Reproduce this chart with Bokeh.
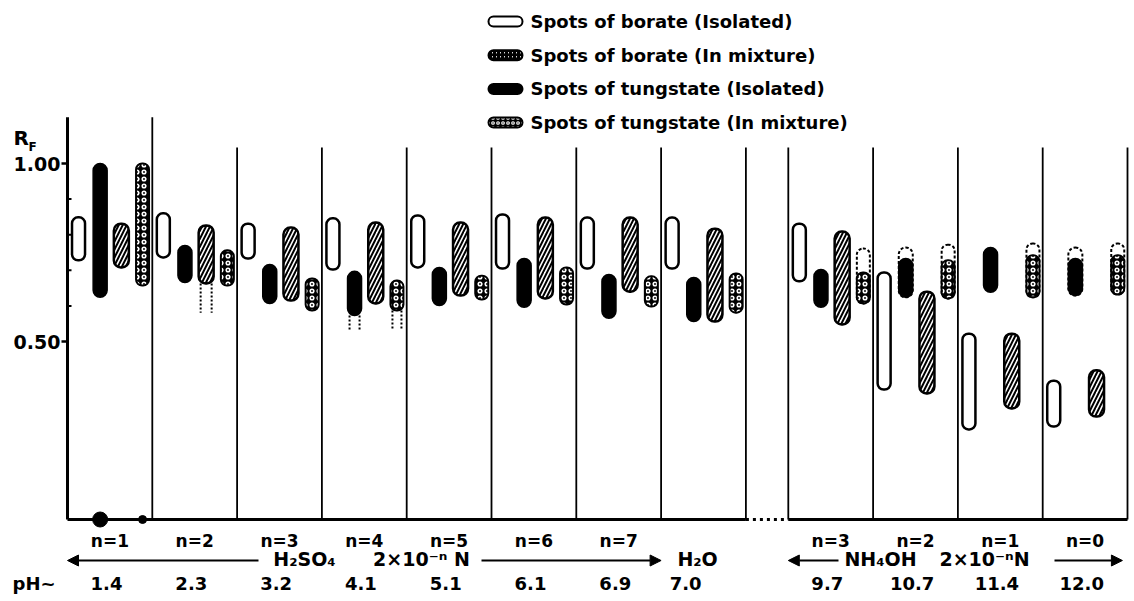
import numpy as np
from bokeh.plotting import figure
from bokeh.models import Range1d, Arrow, NormalHead, ColumnDataSource
from bokeh.core.properties import value
from bokeh.embed import file_html
from bokeh.resources import INLINE

nan = np.nan

# ---------------- data ----------------
acid_labels = ["n=1", "n=2", "n=3", "n=4", "n=5", "n=6", "n=7"]
water_labels = [""]
base_labels = ["n=3", "n=2", "n=1", "n=0"]
ph_values = [1.4, 2.3, 3.2, 4.1, 5.1, 6.1, 6.9, 7.0, 9.7, 10.7, 11.4, 12.0]

# RF ranges for the 12 columns (7 H2SO4, H2O, 4 NH4OH)
borate_iso_lo = [0.728, 0.736, 0.733, 0.702, 0.708, 0.705, 0.705, 0.705, 0.669, 0.365, 0.253, 0.261]
borate_iso_hi = [0.849, 0.860, 0.831, 0.846, 0.854, 0.857, 0.848, 0.848, 0.831, 0.694, 0.522, 0.390]

tung_iso_lo = [0.624, 0.666, 0.607, 0.573, 0.601, 0.596, 0.565, 0.556, 0.596, 0.624, 0.638, 0.629]
tung_iso_hi = [1.000, 0.770, 0.716, 0.697, 0.708, 0.733, 0.688, 0.680, 0.702, 0.764, 0.764, 0.764]
tung_iso_solid_top = [nan, nan, nan, nan, nan, nan, nan, nan, nan, 0.733, nan, 0.733]
tung_iso_tail = [nan, nan, nan, 0.531, nan, nan, nan, nan, nan, nan, nan, nan]

borate_mix_lo = [0.708, 0.663, 0.615, 0.607, 0.629, 0.621, 0.640, 0.556, 0.548, 0.354, 0.312, 0.289]
borate_mix_hi = [0.831, 0.826, 0.820, 0.834, 0.834, 0.848, 0.848, 0.817, 0.809, 0.640, 0.522, 0.419]
borate_mix_tail = [nan, 0.581, nan, nan, nan, nan, nan, nan, nan, nan, nan, nan]

tung_mix_lo = [0.657, 0.657, 0.587, 0.587, 0.618, 0.604, 0.598, 0.581, 0.607, 0.621, 0.624, 0.632]
tung_mix_hi = [1.000, 0.756, 0.677, 0.671, 0.685, 0.708, 0.683, 0.691, 0.761, 0.772, 0.775, 0.775]
tung_mix_solid_top = [nan, nan, nan, nan, nan, nan, nan, nan, 0.694, 0.728, 0.742, 0.742]
tung_mix_tail = [nan, nan, nan, 0.531, nan, nan, nan, nan, nan, nan, nan, nan]

# spots left at the origin (RF = 0), column 1 only
origin_cols = [0, 0]
origin_kind = ["tung_iso", "tung_mix"]

y_major = [0.5, 1.0]
y_minor = [0.6, 0.7, 0.8, 0.9]
y_major_labels = ["0.50", "1.00"]

legend_labels = ["Spots of borate (Isolated)", "Spots of borate (In mixture)",
                 "Spots of tungstate (Isolated)", "Spots of tungstate (In mixture)"]

acid_text = ["H\u2082SO\u2084", "2\u00d710\u207b\u207f N"]
base_text = ["NH\u2084OH", "2\u00d710\u207b\u207fN"]
water_text = "H\u2082O"

# ---------------- layout ----------------
PXU = 84.8      # px per column unit
PXY = 356.0     # px per RF unit
X0, Y0 = 67.0, 519.0
W, H = 1134, 601
GAP = 0.5
n_acid = len(acid_labels) + len(water_labels)
panel_left = np.r_[np.arange(n_acid), n_acid + GAP + np.arange(len(base_labels))].astype(float)
boundaries = np.unique(np.r_[panel_left[1:], panel_left + 1.0])
px = lambda v: v / PXU
py = lambda v: v / PXY
dx = lambda pix: (pix - X0) / PXU      # page px -> data x (layout helper)

lane = {"borate_iso": 0.13, "tung_iso": 0.385, "borate_mix": 0.635, "tung_mix": 0.885}
bw = {"borate_iso": 13, "tung_iso": 14, "borate_mix": 15, "tung_mix": 13}

FONT = value("DejaVu Sans")

p = figure(width=W, height=H, output_backend="svg", toolbar_location=None,
           x_range=Range1d(-X0 / PXU, (W - X0) / PXU),
           y_range=Range1d(-(H - Y0) / PXY, Y0 / PXY),
           min_border=0, min_border_left=0, min_border_right=0,
           min_border_top=0, min_border_bottom=0,
           x_axis_location=None, y_axis_location=None, title=None)
p.grid.visible = False
p.outline_line_color = None
p.background_fill_color = "white"
p.border_fill_color = "white"

# ---- axis and separators ----
AX_TOP = 1.13
p.segment(x0=[0], y0=[0], x1=[0], y1=[AX_TOP], line_color="black", line_width=3)
sep_top = np.where(np.arange(len(boundaries)) == 0, AX_TOP, 1.045)
p.segment(x0=boundaries, y0=np.zeros(len(boundaries)), x1=boundaries, y1=sep_top,
          line_color="black", line_width=1.8)
# baseline
acid_end = panel_left[n_acid - 1] + 1.0
base_start = panel_left[n_acid]
p.segment(x0=[0, base_start], y0=[0, 0], x1=[acid_end, boundaries[-1]], y1=[0, 0],
          line_color="black", line_width=3)
p.segment(x0=[acid_end], y0=[0], x1=[base_start], y1=[0], line_color="black",
          line_width=3, line_dash="3 4")

# ticks
p.segment(x0=np.zeros(len(y_major)), y0=y_major, x1=np.full(len(y_major), -px(6)), y1=y_major,
          line_color="black", line_width=2.5)
p.segment(x0=np.zeros(len(y_minor)), y0=y_minor, x1=np.full(len(y_minor), px(4)), y1=y_minor,
          line_color="black", line_width=2)
p.text(x=np.full(len(y_major), -px(7)), y=y_major, text=y_major_labels, text_font=FONT,
       text_font_style="bold", text_font_size="19px", text_align="right", text_baseline="middle",
       text_color="black")
p.text(x=[-px(54)], y=[py(382)], text=["R"], text_font=FONT, text_font_style="bold",
       text_font_size="20px", text_align="left", text_baseline="middle")
p.text(x=[-px(39)], y=[py(373)], text=["F"], text_font=FONT, text_font_style="bold",
       text_font_size="12px", text_align="left", text_baseline="middle")


# ---- spots ----
def xs(kind):
    return panel_left + lane[kind]


def rad(kind):
    return int(bw[kind] // 2)


def capsule(kind, lo, hi, **kw):
    src = ColumnDataSource(dict(x=xs(kind), lo=lo, hi=hi))
    p.vbar(x="x", bottom="lo", top="hi", width=px(bw[kind]), source=src,
           border_radius=rad(kind), **kw)


# dashed outer capsule for spots whose top is only faint
for kind, lo, hi, st in [("tung_iso", tung_iso_lo, tung_iso_hi, tung_iso_solid_top),
                         ("tung_mix", tung_mix_lo, tung_mix_hi, tung_mix_solid_top)]:
    st = np.array(st, dtype=float)
    m = ~np.isnan(st)
    src = ColumnDataSource(dict(x=xs(kind)[m], lo=np.array(lo)[m], hi=np.array(hi)[m]))
    p.vbar(x="x", bottom="lo", top="hi", width=px(bw[kind]), source=src,
           border_radius=rad(kind), fill_color="white", line_color="black",
           line_width=2, line_dash="3 2")

# borate isolated: open
capsule("borate_iso", borate_iso_lo, borate_iso_hi, fill_color="white",
        line_color="black", line_width=2.5)

# tungstate isolated: solid black
ti_top = np.where(np.isnan(np.array(tung_iso_solid_top, dtype=float)),
                  np.array(tung_iso_hi), np.array(tung_iso_solid_top, dtype=float))
capsule("tung_iso", tung_iso_lo, ti_top, fill_color="black", line_color="black", line_width=1.5)

# borate in mixture: hatched
capsule("borate_mix", borate_mix_lo, borate_mix_hi, fill_color="white", line_color="black",
        line_width=2.5, hatch_pattern="/", hatch_color="black", hatch_scale=8,
        hatch_weight=2)

# tungstate in mixture: speckled
tm_top = np.where(np.isnan(np.array(tung_mix_solid_top, dtype=float)),
                  np.array(tung_mix_hi), np.array(tung_mix_solid_top, dtype=float))
capsule("tung_mix", tung_mix_lo, tm_top, fill_color="black", line_color="black",
        line_width=2, hatch_pattern="ring", hatch_color="white", hatch_scale=7,
        hatch_weight=1.6)

# dotted tails below some spots
for kind, lo, tail in [("borate_mix", borate_mix_lo, borate_mix_tail),
                       ("tung_iso", tung_iso_lo, tung_iso_tail),
                       ("tung_mix", tung_mix_lo, tung_mix_tail)]:
    t = np.array(tail, dtype=float)
    m = ~np.isnan(t)
    cx = xs(kind)[m]
    half = px(bw[kind] / 2.0 - 2)
    x_all = np.r_[cx - half, cx + half]
    p.segment(x0=x_all, y0=np.tile(np.array(lo)[m], 2), x1=x_all, y1=np.tile(t[m], 2),
              line_color="black", line_width=2, line_dash="2 2")

# origin spots
osize = {"tung_iso": 15, "tung_mix": 8}
p.scatter(x=[panel_left[c] + lane[k] for c, k in zip(origin_cols, origin_kind)],
          y=[0.0] * len(origin_cols), size=[osize[k] for k in origin_kind],
          marker="circle", fill_color="black", line_color="black")

# ---- bottom labels ----
all_n = acid_labels + water_labels + base_labels
lab_x = panel_left + 0.5
lab_x[n_acid - 1] -= 0.17          # the water column labels sit left of centre
ROW_N, ROW_ARR, ROW_PH = -py(21), -py(39), -py(64)
p.text(x=lab_x, y=np.full(len(lab_x), ROW_N), text=all_n, text_font=FONT,
       text_font_style="bold", text_font_size="17px", text_align="center",
       text_baseline="middle")
p.text(x=lab_x - 0.04, y=np.full(len(lab_x), ROW_PH), text=[f"{v:.1f}" for v in ph_values],
       text_font=FONT, text_font_style="bold", text_font_size="18px", text_align="center",
       text_baseline="middle")
p.text(x=[dx(12)], y=[ROW_PH], text=["pH~"], text_font=FONT, text_font_style="bold",
       text_font_size="18px", text_align="left", text_baseline="middle")

# arrows with a gap for the text
n_a = len(acid_labels)
head = lambda: NormalHead(size=11, fill_color="black", line_color="black")
groups = [(0.0, float(n_a), dx(258), dx(481), [dx(304), dx(421)], acid_text),
          (panel_left[n_acid], boundaries[-1] - 0.06, dx(838), dx(1054), [dx(880), dx(984)],
           base_text)]
for a, b, g0, g1, txt_x, txt in groups:
    p.add_layout(Arrow(x_start=g0, y_start=ROW_ARR - py(2), x_end=a, y_end=ROW_ARR - py(2),
                       line_width=2, start=None, end=head()))
    p.add_layout(Arrow(x_start=g1, y_start=ROW_ARR - py(2), x_end=b, y_end=ROW_ARR - py(2),
                       line_width=2, start=None, end=head()))
    p.text(x=txt_x, y=[ROW_ARR, ROW_ARR], text=txt, text_font=FONT, text_font_style="bold",
           text_font_size="19px", text_align="center", text_baseline="middle")
p.text(x=[lab_x[n_acid - 1] + 0.1], y=[ROW_ARR], text=[water_text], text_font=FONT,
       text_font_style="bold", text_font_size="19px", text_align="center",
       text_baseline="middle")

# ---- legend ----
LEG_X0, LEG_X1, LEG_TX = dx(488), dx(522), dx(530)
leg_y = py(Y0 - 21) - np.arange(4) * py(33.7)
sym_h = py(10)
p.hbar(y=[leg_y[0]], left=LEG_X0, right=LEG_X1, height=sym_h, fill_color="white",
       line_color="black", line_width=2, border_radius=5)
p.hbar(y=[leg_y[1]], left=LEG_X0, right=LEG_X1, height=sym_h, fill_color="white",
       line_color="black", line_width=2, border_radius=5, hatch_pattern="/",
       hatch_color="black", hatch_scale=4, hatch_weight=2)
p.hbar(y=[leg_y[2]], left=LEG_X0, right=LEG_X1, height=sym_h, fill_color="black",
       line_color="black", line_width=2, border_radius=5)
p.hbar(y=[leg_y[3]], left=LEG_X0, right=LEG_X1, height=sym_h, fill_color="black",
       line_color="black", line_width=2, border_radius=5, hatch_pattern="ring",
       hatch_color="white", hatch_scale=5, hatch_weight=1.2)
p.text(x=np.full(4, LEG_TX), y=leg_y, text=legend_labels, text_font=FONT,
       text_font_style="bold", text_font_size="18px", text_align="left",
       text_baseline="middle")

open("out.html", "w").write(file_html(p, INLINE))
